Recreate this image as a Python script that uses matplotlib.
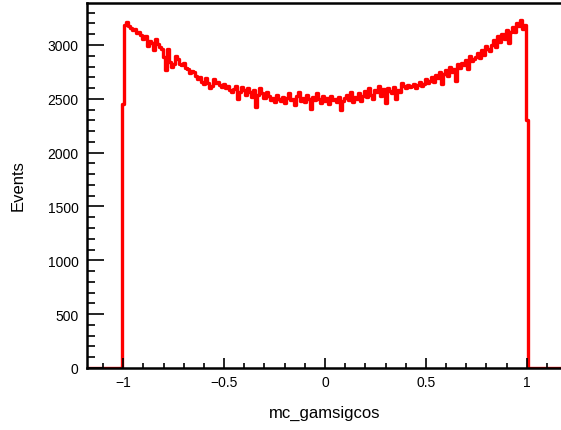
import numpy as np
import matplotlib
matplotlib.use("Agg")
import matplotlib.pyplot as plt
from matplotlib.ticker import MultipleLocator

plt.rcParams['font.family'] = ['Liberation Sans', 'DejaVu Sans']
plt.rcParams['axes.unicode_minus'] = True

# bin contents, 0.01 wide bins centred from -1.0 to 1.0
counts = [
    2450, 3190, 3215, 3180, 3160, 3140, 3150, 3110, 3120, 3090,
    3060, 3080, 2990, 3040, 3020, 2950, 3060, 3010, 2980, 2960,
    2890, 2770, 2960, 2840, 2800, 2820, 2900, 2870, 2820, 2810,
    2830, 2790, 2780, 2740, 2760, 2750, 2710, 2680, 2700, 2660,
    2640, 2690, 2650, 2600, 2620, 2680, 2650, 2660, 2630, 2610,
    2640, 2600, 2620, 2580, 2560, 2590, 2620, 2500, 2560, 2610,
    2580, 2540, 2600, 2560, 2520, 2580, 2420, 2540, 2600, 2550,
    2510, 2560, 2530, 2490, 2510, 2470, 2540, 2500, 2480, 2520,
    2460, 2510, 2550, 2490, 2500, 2440, 2530, 2560, 2480, 2510,
    2470, 2540, 2500, 2410, 2520, 2490, 2550, 2500, 2460, 2530,
    2480, 2510, 2450, 2530, 2490, 2500, 2470, 2520, 2400, 2480,
    2510, 2540, 2490, 2560, 2470, 2520, 2500, 2550, 2480, 2530,
    2570, 2520, 2600, 2540, 2500, 2580, 2560, 2620, 2530, 2590,
    2460, 2600, 2570, 2550, 2610, 2500, 2580, 2560, 2650, 2620,
    2600, 2630, 2610, 2620, 2640, 2600, 2630, 2660, 2620, 2640,
    2680, 2650, 2670, 2700, 2660, 2720, 2690, 2750, 2640, 2730,
    2770, 2710, 2800, 2750, 2780, 2670, 2820, 2790, 2830, 2810,
    2860, 2780, 2900, 2850, 2870, 2890, 2930, 2880, 2950, 2910,
    2990, 2960, 2940, 3000, 3050, 2980, 3080, 3030, 3100, 3060,
    3140, 3020, 3120, 3170, 3120, 3200, 3180, 3230, 3150, 3190,
    2300,
]
x_lo, x_hi = -1.18, 1.18
bin_lo, bin_hi = -1.005, 1.005

edges = np.concatenate([[x_lo], np.linspace(bin_lo, bin_hi, len(counts) + 1), [x_hi]])
values = np.concatenate([[0], counts, [0]])

W, H = 561, 431
fig = plt.figure(figsize=(W / 100, H / 100), dpi=100)
ax = fig.add_axes([87 / W, 62 / H, (563 - 87) / W, 365 / H])

hist = ax.stairs(values, edges, color='red', linewidth=2.4)
hist.set_joinstyle('round')
hist.set_capstyle('round')

ax.set_xlim(x_lo, x_hi)
ax.set_ylim(0, 3390)

ax.xaxis.set_major_locator(MultipleLocator(0.5))
ax.xaxis.set_minor_locator(MultipleLocator(0.1))
ax.yaxis.set_major_locator(MultipleLocator(500))
ax.yaxis.set_minor_locator(MultipleLocator(100))
ax.xaxis.set_major_formatter(lambda v, p: f"{v:g}".replace('-', '\u2212'))

ax.tick_params(axis='x', which='major', direction='in', length=7, width=1.2, labelsize=10, pad=5)
ax.tick_params(axis='x', which='minor', direction='in', length=3.5, width=1.2)
ax.tick_params(axis='y', which='major', direction='in', length=12, width=1.2, labelsize=10, pad=6)
ax.tick_params(axis='y', which='minor', direction='in', length=6, width=1.2)

for s in ['left', 'bottom', 'top']:
    ax.spines[s].set_linewidth(1.8)
ax.spines['right'].set_visible(False)

fig.text(18 / W, 1 - 186 / H, 'Events', rotation=90, ha='center', va='center', fontsize=12)
fig.text(325 / W, 1 - 413 / H, 'mc_gamsigcos', ha='center', va='center', fontsize=12)

fig.savefig('out.png', dpi=100)
